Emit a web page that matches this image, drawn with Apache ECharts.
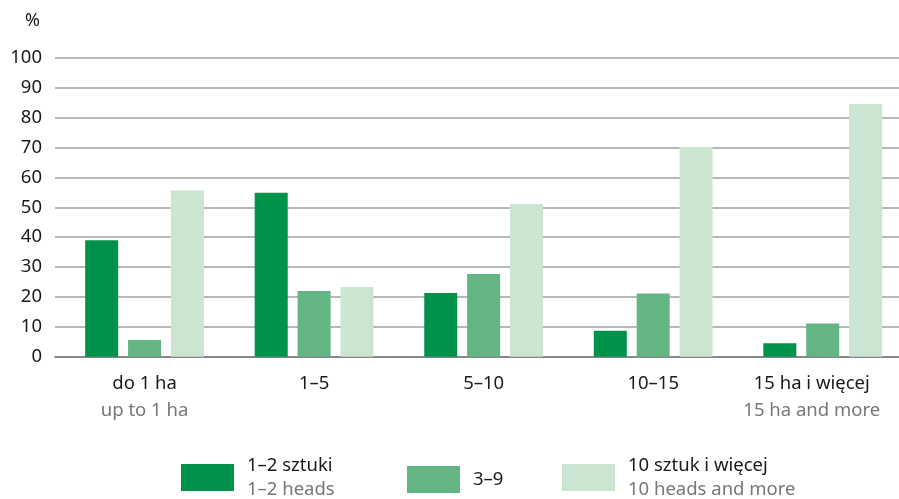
<!DOCTYPE html>
<html>
<head>
<meta charset="utf-8">
<script src="https://cdn.jsdelivr.net/npm/echarts@6/dist/echarts.min.js"></script>
<style>html,body{margin:0;padding:0;background:#fff}#c{width:899px;height:499px}</style>
</head>
<body>
<div id="c"></div>
<script>
const categories = ['do 1 ha', '1–5', '5–10', '10–15', '15 ha i więcej'];
const categoriesEn = ['up to 1 ha', '', '', '', '15 ha and more'];
const seriesNames = ['1–2 sztuki', '3–9', '10 sztuk i więcej'];
const seriesNamesEn = ['1–2 heads', '', '10 heads and more'];
const heads1to2 = [39.0, 54.9, 21.3, 8.7, 4.5];
const heads3to9 = [5.6, 22.0, 27.7, 21.2, 11.1];
const heads10plus = [55.6, 23.3, 51.1, 70.2, 84.6];
const yTicks = [0, 10, 20, 30, 40, 50, 60, 70, 80, 90, 100];

const colors = ['#00924a', '#63b584', '#cbe5d1'];
const FONT = 'Noto Sans';
const values = [heads1to2, heads3to9, heads10plus];
const legendLeft = [181, 407, 562];

const chart = echarts.init(document.getElementById('c'), null, {renderer: 'canvas'});
const gTop = 58, gHeight = 298.7;
chart.setOption({
  animation: false,
  textStyle: {fontFamily: FONT},
  grid: [
    {left: 55, right: 0, top: gTop, height: gHeight, outerBoundsMode: 'none', containLabel: false},
    {left: 59.8, width: 847.7, top: gTop, height: gHeight, outerBoundsMode: 'none', containLabel: false}
  ],
  xAxis: [
    {type: 'category', gridIndex: 0, data: categories, axisTick: {show: false}, axisLabel: {show: false},
     axisLine: {show: true, lineStyle: {color: '#777', width: 1.5}}},
    {type: 'category', gridIndex: 1, data: categories, axisTick: {show: false}, axisLine: {show: false},
     axisLabel: {margin: 14, formatter: function (v, i) {
        const last = i === categories.length - 1;
        const a = last ? 'c' : 'a', b = last ? 'd' : 'b';
        return '{' + a + '|' + v + '}\n{' + b + '|' + (categoriesEn[i] || ' ') + '}';
      },
      rich: {
        a: {fontFamily: FONT, fontSize: 18.5, color: '#1a1a1a', lineHeight: 27},
        b: {fontFamily: FONT, fontSize: 18.5, color: '#777', lineHeight: 27},
        c: {fontFamily: FONT, fontSize: 18.5, color: '#1a1a1a', lineHeight: 27, padding: [0, 22, 0, 0]},
        d: {fontFamily: FONT, fontSize: 18.5, color: '#777', lineHeight: 27, padding: [0, 22, 0, 0]}
      }}}
  ],
  yAxis: [
    {type: 'value', gridIndex: 0, min: 0, max: 100, interval: 10, name: '%',
     nameLocation: 'end', nameGap: 28, nameTextStyle: {fontFamily: FONT, fontSize: 18, color: '#1a1a1a', align: 'right', padding: [0, 15, 0, 0]},
     axisLine: {show: false}, axisTick: {show: false},
     axisLabel: {margin: 13, fontFamily: FONT, fontSize: 18.5, color: '#1a1a1a',
       formatter: function (v) { return yTicks.indexOf(v) >= 0 ? String(v) : ''; }},
     splitLine: {lineStyle: {color: '#a0a0a0', width: 1.5}}},
    {type: 'value', gridIndex: 1, min: 0, max: 100, interval: 10, show: false, splitLine: {show: false}}
  ],
  legend: seriesNames.map(function (n, i) {
    const twoLine = !!seriesNamesEn[i];
    return {
      data: [n], left: legendLeft[i], top: twoLine ? 456 : 466, itemWidth: 53, itemHeight: 27, itemGap: 0,
      selectedMode: false, icon: 'rect', padding: 0,
      formatter: function (name) {
        const en = seriesNamesEn[seriesNames.indexOf(name)];
        return en ? '{a|' + name + '}\n{b|' + en + '}' : '{a|' + name + '}';
      },
      textStyle: {
        padding: [0, 0, 0, 8],
        rich: {
          a: {fontFamily: FONT, fontSize: 18.5, color: '#1a1a1a', lineHeight: 24},
          b: {fontFamily: FONT, fontSize: 18.5, color: '#777', lineHeight: 24}
        }
      }
    };
  }),
  series: seriesNames.map(function (n, i) {
    return {
      name: n, type: 'bar', xAxisIndex: 1, yAxisIndex: 1, data: values[i],
      barWidth: 33, barGap: '30%',
      itemStyle: {color: colors[i]}
    };
  })
});
</script>
</body>
</html>
